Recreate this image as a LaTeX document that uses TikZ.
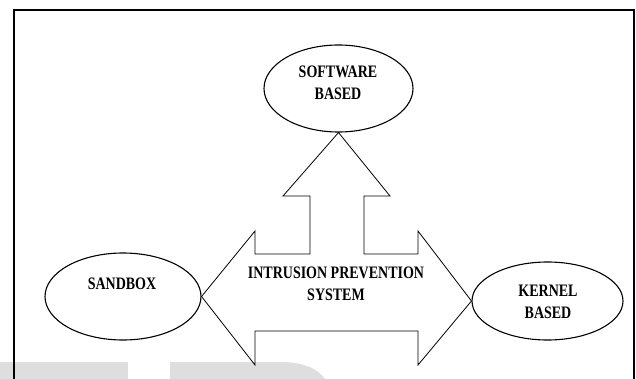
\documentclass[tikz,border=0pt]{standalone}
\usepackage{fontspec}
\setmainfont{Liberation Serif}
\newfontfamily\lblfont[FakeStretch=0.8]{Liberation Serif}
\usetikzlibrary{shapes.geometric}
\definecolor{wmgray}{RGB}{222,222,222}
\tikzset{
  bubble/.style={draw=black, line width=1.1pt, shape=ellipse, inner sep=0pt},
  lbl/.style={font=\lblfont\bfseries\fontsize{17.5}{22}\selectfont, align=center, inner sep=0pt},
  blockarrow/.style={draw=black, line width=0.8pt, line join=miter},
  frameline/.style={draw=black, line width=1.6pt}
}
\begin{document}
\begin{tikzpicture}[x=1pt,y=-1pt]
\useasboundingbox (0,0) rectangle (636,379);
% faint watermark letters along the lower edge
\fill[wmgray] (0,362) rectangle (128,379);
\fill[wmgray] (170,379) -- (170,362) -- (280,362)
  .. controls (304,362) and (318,369) .. (325,379) -- cycle;
% open frame
\draw[frameline] (14,379) -- (14,10) -- (634,10) -- (634,379);
% the three categories
\node[bubble, minimum width=149pt, minimum height=87pt] (soft) at (338.5,88.5) {};
\node[bubble, minimum width=156pt, minimum height=87pt] (sandbox) at (123,296.5) {};
\node[bubble, minimum width=151pt, minimum height=78pt] (kernel) at (547.5,301) {};
% three-headed block arrow from the central system
\draw[blockarrow] (soft.south) -- (390,196) -- (364,196) -- (364,254) -- (418,254)
  -- (418,231) -- (kernel.west) -- (418,365) -- (418,331) -- (255,331) -- (255,365)
  -- (sandbox.east) -- (255,231) -- (255,254) -- (310,254) -- (310,196) -- (283,196)
  -- cycle;
% labels
\node[lbl] (softtxt) at (338,83) {SOFTWARE\\BASED};
\node[lbl] (sandtxt) at (122,284) {SANDBOX};
\node[lbl] (kerntxt) at (548,302) {KERNEL\\BASED};
\node[lbl] (ipstxt) at (336,284) {INTRUSION PREVENTION\\SYSTEM};
\end{tikzpicture}
\end{document}
